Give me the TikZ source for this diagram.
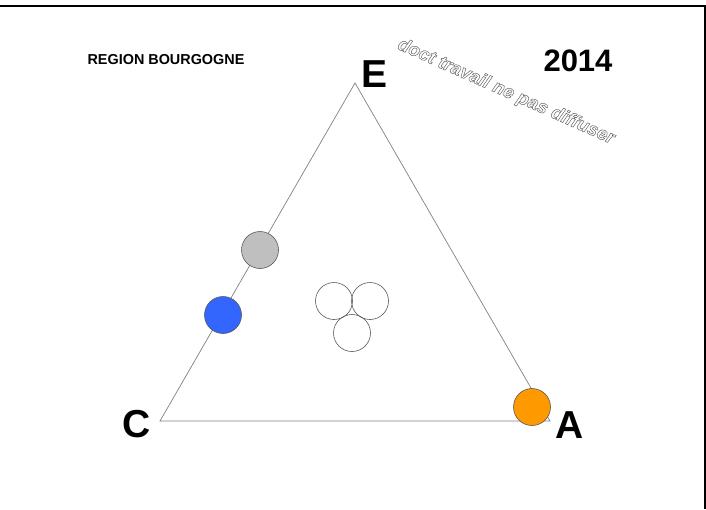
\documentclass[tikz,border=0pt]{standalone}
\usepackage{fontspec}
\setmainfont{Liberation Sans}
\begin{document}
\begin{tikzpicture}[x=1pt,y=-1pt,
  pole/.style={font=\fontsize{39}{39}\selectfont\bfseries, inner sep=0pt},
  dot/.style={circle, draw=black!65, line width=0.6pt, minimum size=37pt, inner sep=0pt},
  side/.style={draw=black!50, line width=0.7pt}]
\useasboundingbox (0,0) rectangle (706,509);
% cadre
\draw[line width=2pt] (0,6) -- (705,6) -- (705,509);
% sommets du triangle
\coordinate (ptc) at (160,421);
\coordinate (pta) at (550,421);
\coordinate (pte) at (355,83);
\draw[side] (ptc) -- (pta) -- (pte) -- cycle;
\node[pole] (labe) at (375,74) {E};
\node[pole] (labc) at (137,424) {C};
\node[pole] (laba) at (570,425) {A};
% titres
\node[font=\fontsize{14.4}{14.4}\selectfont\bfseries, inner sep=0pt] (region) at (166,60) {REGION BOURGOGNE};
\node[font=\fontsize{31}{31}\selectfont\bfseries, inner sep=0pt] (annee) at (578,61) {2014};
\node[font=\fontsize{18.5}{18.5}\selectfont\bfseries\itshape, text=black!60, rotate=-24, inner sep=0pt] (filigrane) at (506,92)
  {\special{pdf:literal direct 1 Tr 0.5 w}doct travail ne pas diffuser\special{pdf:literal direct 0 Tr}};
% points
\node[dot, fill=black!25] (gris) at (260,250) {};
\node[dot, fill={rgb,255:red,51;green,102;blue,255}] (bleu) at (223,315) {};
\node[dot] (blanc1) at (334,301) {};
\node[dot] (blanc2) at (370,301) {};
\node[dot] (blanc3) at (352,333) {};
\node[dot, fill={rgb,255:red,255;green,153;blue,0}] (orange) at (532,407) {};
\end{tikzpicture}
\end{document}
